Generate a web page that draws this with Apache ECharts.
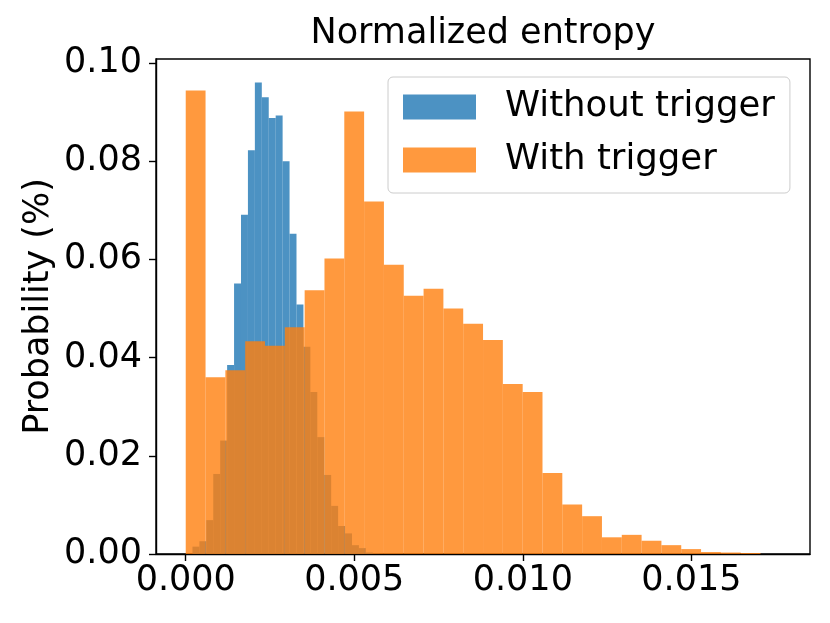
<!DOCTYPE html>
<html>
<head>
<meta charset="utf-8">
<script src="https://cdn.jsdelivr.net/npm/echarts@6/dist/echarts.min.js"></script>
<style>
  html, body { margin: 0; padding: 0; background: #fff; }
  #chart { width: 830px; height: 623px; }
</style>
</head>
<body>
<div id="chart"></div>
<script>
/* Normalized entropy histogram: without vs. with trigger */
const FONT = 'DejaVu Sans';

// histogram bins (density values)
const withoutStart = 0.000199;
const withoutWidth = 0.0002058;
const withoutValues = [
  0.0015, 0.0026, 0.0069, 0.0163, 0.0231, 0.0385, 0.0551, 0.0691, 0.0822, 0.0960,
  0.0930, 0.0888, 0.0893, 0.0800, 0.0652, 0.0508, 0.0422, 0.0330, 0.0238, 0.0161,
  0.0098, 0.0057, 0.0042, 0.0018, 0.0012, 0.0003, 0.0001,
];

const withStart = 0;
const withWidth = 0.000588;
const withValues = [
  0.0944, 0.0360, 0.0374, 0.0433, 0.0424, 0.0462, 0.0537, 0.0602, 0.0901, 0.0718,
  0.0589, 0.0526, 0.0540, 0.0500, 0.0469, 0.0436, 0.0346, 0.0330, 0.0165, 0.0101,
  0.0077, 0.0034, 0.0039, 0.0027, 0.0018, 0.0010, 0.0004, 0.0003, 0.0002,
];

const xTicks = [0, 0.005, 0.010, 0.015];
const yTicks = [0, 0.02, 0.04, 0.06, 0.08, 0.10];

const toBins = (start, width, values) =>
  values.map((v, i) => [start + i * width, start + (i + 1) * width, v]);

function renderBar(params, api) {
  const top = api.coord([api.value(0), api.value(2)]);
  const base = api.coord([api.value(1), 0]);
  return {
    type: 'rect',
    shape: { x: top[0], y: top[1], width: base[0] - top[0], height: base[1] - top[1] },
    style: { fill: api.visual('color'), opacity: 0.8 },
  };
}

const chart = echarts.init(document.getElementById('chart'));
chart.setOption({
  backgroundColor: '#fff',
  animation: false,
  textStyle: { fontFamily: FONT },
  grid: {
    left: 156, right: 20, top: 59, bottom: 69,
    show: true, borderColor: '#000', borderWidth: 1.4, backgroundColor: 'transparent',
  },
  graphic: [{
    type: 'text',
    x: 483, y: 34,
    style: {
      text: 'Normalized entropy', fontFamily: FONT, fontSize: 35, fill: '#000',
      align: 'center', verticalAlign: 'middle',
    },
  }],
  legend: {
    orient: 'vertical',
    left: 388, top: 77,
    padding: [10, 15, 13, 15],
    itemGap: 13,
    itemWidth: 73, itemHeight: 25,
    icon: 'rect',
    backgroundColor: 'rgba(255,255,255,0.8)',
    borderColor: '#cccccc', borderWidth: 1, borderRadius: 5,
    textStyle: { fontFamily: FONT, fontSize: 35.5, color: '#000', lineHeight: 40, padding: [0, 0, 0, 24] },
    data: [
      { name: 'Without trigger', itemStyle: { color: '#4c92c3' } },
      { name: 'With trigger', itemStyle: { color: '#ff993e' } },
    ],
  },
  xAxis: {
    type: 'value',
    min: -0.000882, max: 0.01852,
    axisLine: { show: true, onZero: false, lineStyle: { color: '#000', width: 1.4 } },
    axisTick: { show: true, length: 7, lineStyle: { color: '#000', width: 1.4 }, customValues: xTicks },
    axisLabel: {
      customValues: xTicks, margin: 9, fontSize: 35, fontFamily: FONT, color: '#000',
      formatter: (v) => v.toFixed(3),
    },
    splitLine: { show: false },
  },
  yAxis: {
    type: 'value',
    min: 0, max: 0.1008,
    name: 'Probability (%)',
    nameLocation: 'middle', nameRotate: 90, nameGap: 100,
    nameMoveOverlap: false,
    nameTextStyle: { fontFamily: FONT, fontSize: 35, color: '#000' },
    axisLine: { show: true, onZero: false, lineStyle: { color: '#000', width: 1.4 } },
    axisTick: { show: true, length: 7, lineStyle: { color: '#000', width: 1.4 }, customValues: yTicks },
    axisLabel: {
      customValues: yTicks, margin: 14, fontSize: 35, fontFamily: FONT, color: '#000',
      formatter: (v) => v.toFixed(2),
    },
    splitLine: { show: false },
  },
  series: [
    {
      name: 'Without trigger',
      type: 'custom',
      renderItem: renderBar,
      encode: { x: [0, 1], y: 2 },
      itemStyle: { color: '#1f77b4' },
      data: toBins(withoutStart, withoutWidth, withoutValues),
    },
    {
      name: 'With trigger',
      type: 'custom',
      renderItem: renderBar,
      encode: { x: [0, 1], y: 2 },
      itemStyle: { color: '#ff7f0e' },
      data: toBins(withStart, withWidth, withValues),
    },
  ],
});
window.addEventListener('resize', () => chart.resize());
</script>
</body>
</html>
